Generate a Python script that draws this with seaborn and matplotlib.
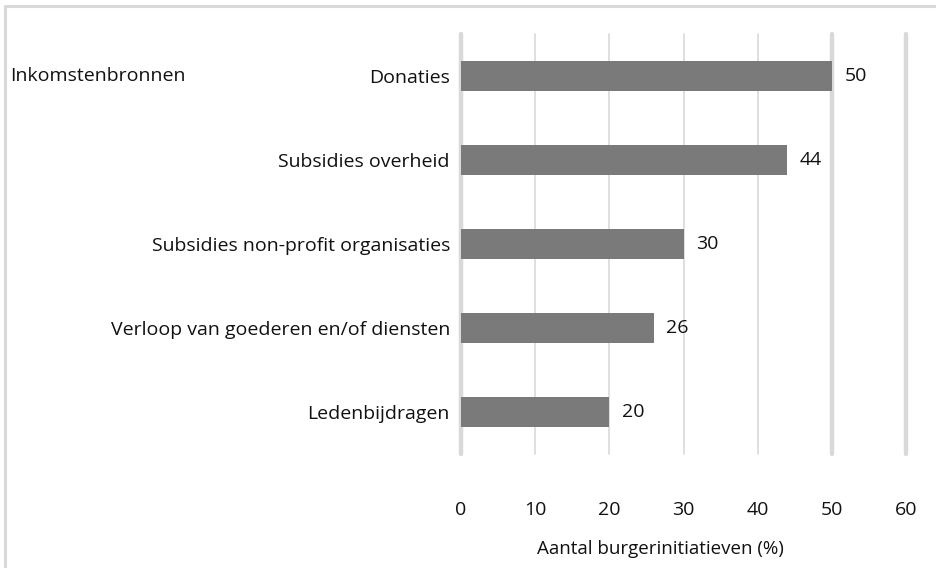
import matplotlib
matplotlib.use("Agg")
import matplotlib.pyplot as plt
import seaborn as sns
import pandas as pd
from matplotlib.lines import Line2D

# data
categories = ["Donaties", "Subsidies overheid", "Subsidies non-profit organisaties",
              "Verloop van goederen en/of diensten", "Ledenbijdragen"]
values = [50, 44, 30, 26, 20]
x_ticks = [0, 10, 20, 30, 40, 50, 60]

df = pd.DataFrame({"bron": categories, "pct": values})

sns.set_theme(style="white")
plt.rcParams["font.family"] = ["Open Sans", "DejaVu Sans"]

fig = plt.figure(figsize=(9.36, 5.68), dpi=100)
ax = fig.add_axes([461 / 936, 1 - 454 / 568, (906 - 461) / 936, (454 - 34) / 568])

sns.barplot(data=df, x="pct", y="bron", color="#7a7a7a", width=0.36,
            saturation=1, linewidth=0, ax=ax, zorder=3)

ax.set_xlim(0, 60)
ax.set_ylim(4.5, -0.5)
ax.set_xticks(x_ticks)
ax.set_xticklabels([str(t) for t in x_ticks])
ax.grid(axis="x", color="#d9d9d9", linewidth=1.2, zorder=0)
for t, gl in zip(x_ticks, ax.get_xgridlines()):
    gl.set_clip_on(False)
    if t in (0, 50, 60):
        gl.set_linewidth(3.2)
for s in ax.spines.values():
    s.set_visible(False)

ax.tick_params(axis="x", length=0, pad=34, labelsize=14, labelcolor="#111111")
ax.tick_params(axis="y", length=0, pad=8, labelsize=14, labelcolor="#111111")
ax.set_ylabel("")
ax.set_xlabel("Aantal burgerinitiatieven (%)", fontsize=13.5, color="#111111")
ax.xaxis.set_label_coords(0.449, -0.205)

for i, v in enumerate(values):
    ax.text(v + 1.7, i, str(v), va="center", ha="left", fontsize=14, color="#111111")

fig.text(10 / 936, 1 - 76 / 568, "Inkomstenbronnen", ha="left", va="center",
         fontsize=14, color="#111111")

# outer frame (top and left)
fig.add_artist(Line2D([4.5 / 936, 1], [1 - 5.5 / 568, 1 - 5.5 / 568],
                      transform=fig.transFigure, color="#d9d9d9", linewidth=2.2))
fig.add_artist(Line2D([4.5 / 936, 4.5 / 936], [0, 1 - 5.5 / 568],
                      transform=fig.transFigure, color="#d9d9d9", linewidth=2.2))

fig.savefig("out.png", dpi=100)
